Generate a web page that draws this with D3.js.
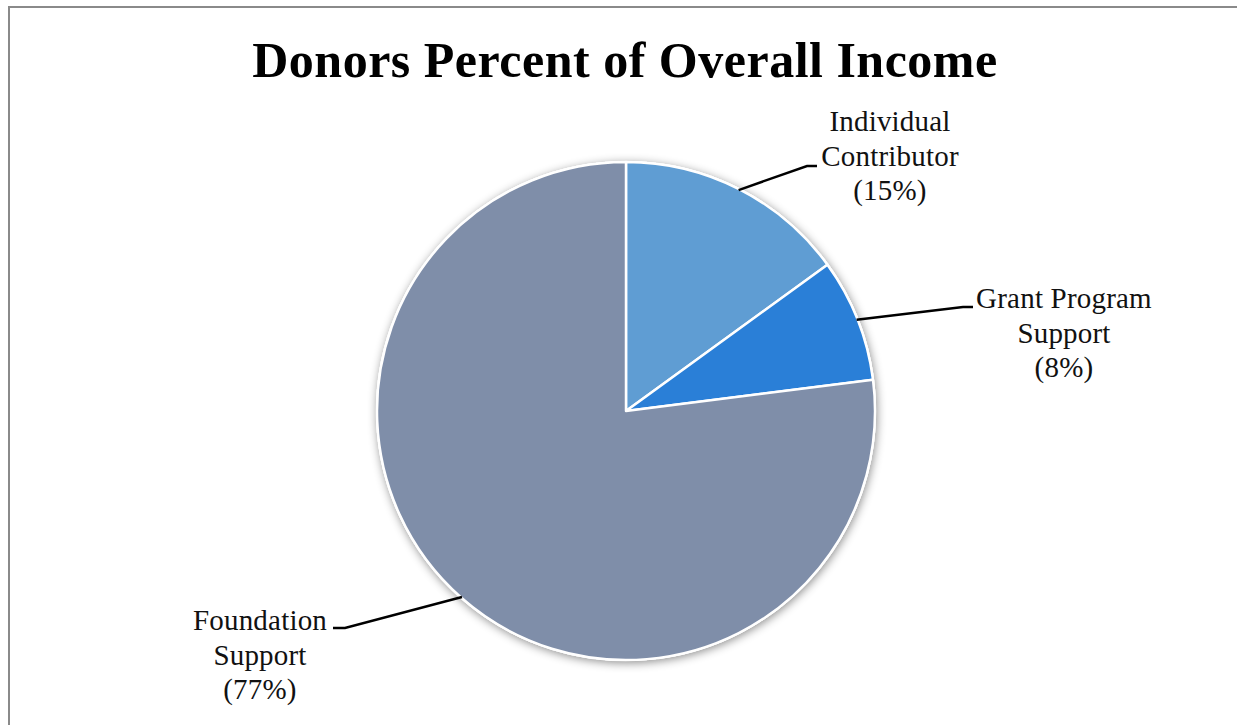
<!DOCTYPE html>
<html lang="en">
<head>
<meta charset="UTF-8">
<title>Donors Percent of Overall Income</title>
<script src="https://d3js.org/d3.v7.min.js"></script>
<style>
  html, body { margin: 0; padding: 0; background: #fff; }
  svg { display: block; }
  .title { font-family: "Liberation Serif", "DejaVu Serif", serif; font-weight: bold; letter-spacing: 0.5px; }
  .label { font-family: "Liberation Serif", "DejaVu Serif", serif; fill: #111; letter-spacing: 0.2px; }
</style>
</head>
<body>
<svg id="chart"></svg>
<script>
// data
const categories = ["Individual Contributor", "Grant Program Support", "Foundation Support"];
const labelLines = [["Individual", "Contributor"], ["Grant Program", "Support"], ["Foundation", "Support"]];
const values = [15, 8, 77];
const colors = ["#5f9dd3", "#2a7fd7", "#7f8ea9"];

// layout: where each label block sits (centre x, first baseline) and the leader elbow
const labelPos = [
  { cx: 890, y: 131, elbow: [807, 166], end: [817, 166] },
  { cx: 1064, y: 308, elbow: [963, 307], end: [973, 307] },
  { cx: 260, y: 630, elbow: [345, 628], end: [333, 628] }
];

const width = 1237, height = 725;
const cx = 626, cy = 411, radius = 249;

const svg = d3.select("#chart").attr("width", width).attr("height", height);

// chart frame (runs off the right and bottom edges)
svg.append("rect")
  .attr("x", 9).attr("y", 7)
  .attr("width", 1250).attr("height", 740)
  .attr("fill", "none")
  .attr("stroke", "#8a8a8a")
  .attr("stroke-width", 2);

svg.append("text")
  .attr("class", "title")
  .attr("x", 625).attr("y", 77)
  .attr("text-anchor", "middle")
  .attr("font-size", 50)
  .text("Donors Percent of Overall Income");

// soft shadow under the pie
const defs = svg.append("defs");
const f = defs.append("filter").attr("id", "shadow")
  .attr("x", "-20%").attr("y", "-20%").attr("width", "140%").attr("height", "140%");
f.append("feDropShadow")
  .attr("dx", 1).attr("dy", 2)
  .attr("stdDeviation", 5)
  .attr("flood-color", "#000")
  .attr("flood-opacity", 0.45);

const pie = d3.pie().sort(null).value(d => d);
const arcs = pie(values);
const arc = d3.arc().innerRadius(0).outerRadius(radius);

const g = svg.append("g").attr("transform", `translate(${cx},${cy})`);

g.append("circle").attr("r", radius + 1).attr("fill", "#fff").attr("filter", "url(#shadow)");

g.selectAll("path.slice")
  .data(arcs)
  .enter().append("path")
  .attr("class", "slice")
  .attr("d", arc)
  .attr("fill", (d, i) => colors[i])
  .attr("stroke", "#fff")
  .attr("stroke-width", 2.5)
  .attr("stroke-linejoin", "round");

// leader lines from the middle of each slice's rim
arcs.forEach((d, i) => {
  const mid = (d.startAngle + d.endAngle) / 2;
  const sx = cx + Math.sin(mid) * (radius - 1);
  const sy = cy - Math.cos(mid) * (radius - 1);
  const p = labelPos[i];
  svg.append("polyline")
    .attr("points", [[sx, sy], p.elbow, p.end].map(q => q.join(",")).join(" "))
    .attr("fill", "none")
    .attr("stroke", "#000")
    .attr("stroke-width", 2.4);

  const t = svg.append("text")
    .attr("class", "label")
    .attr("text-anchor", "middle")
    .attr("font-size", 29);
  const lines = labelLines[i].concat(["(" + values[i] + "%)"]);
  lines.forEach((ln, k) => {
    t.append("tspan").attr("x", p.cx).attr("y", p.y + k * 34.5).text(ln);
  });
});
</script>
</body>
</html>
